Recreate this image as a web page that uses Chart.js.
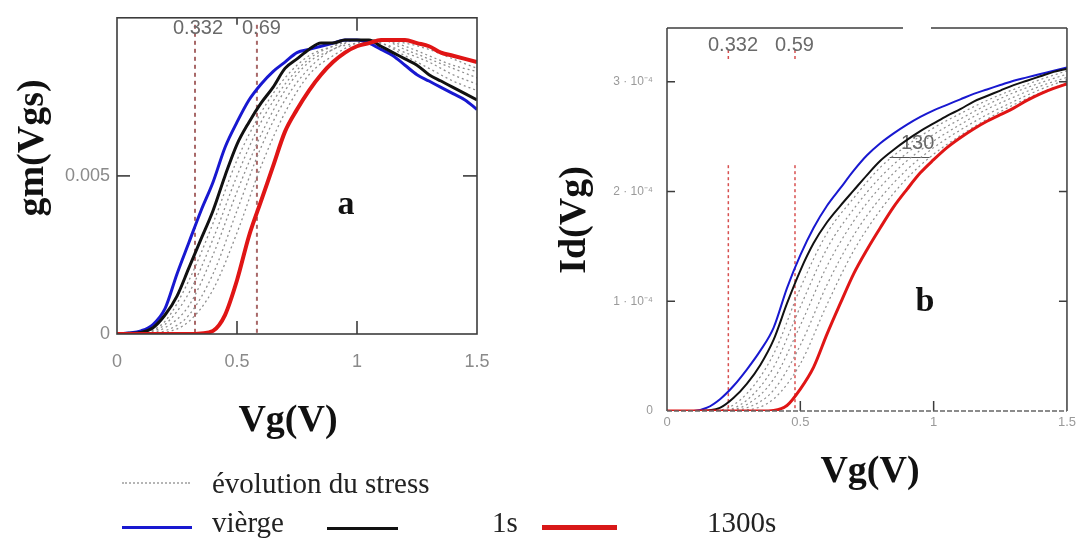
<!DOCTYPE html>
<html lang="fr">
<head>
<meta charset="UTF-8">
<title>gm(Vgs) et Id(Vg)</title>
<style>
  html, body { margin: 0; padding: 0; background: #fff; }
  #wrap { position: relative; width: 1076px; height: 542px; overflow: hidden; }
  #wrap canvas { position: absolute; top: 0; }
  #chartA { left: 0; }
  #chartB { left: 545px; }
  .leg-line { position: absolute; height: 0; }
  .leg-text { position: absolute; font-family: "Liberation Serif", serif; font-size: 29px; line-height: 29px; color: #222; white-space: nowrap; }
</style>
</head>
<body>
<div id="wrap">
  <canvas id="chartA" width="545" height="542"></canvas>
  <canvas id="chartB" width="535" height="542"></canvas>

  <div class="leg-line" style="left:122px; top:482px; width:68px; border-top:2px dotted #b5b5b5;"></div>
  <div class="leg-text" style="left:212px; top:469px;">évolution du stress</div>
  <div class="leg-line" style="left:122px; top:526px; width:70px; border-top:3px solid #1818d0;"></div>
  <div class="leg-text" style="left:212px; top:508px;">vièrge</div>
  <div class="leg-line" style="left:327px; top:527px; width:71px; border-top:3px solid #111;"></div>
  <div class="leg-text" style="left:492px; top:508px;">1s</div>
  <div class="leg-line" style="left:542px; top:525px; width:75px; border-top:5px solid #d81818;"></div>
  <div class="leg-text" style="left:707px; top:508px;">1300s</div>
</div>

<script src="https://cdn.jsdelivr.net/npm/chart.js@4"></script>
<script>
// gate voltage grids (V)
const vgFine = [0, 0.05, 0.1, 0.15, 0.2, 0.25, 0.3, 0.35, 0.4, 0.45, 0.5, 0.55, 0.6, 0.65, 0.7, 0.75,
                0.8, 0.85, 0.9, 0.95, 1.0, 1.05, 1.1, 1.15, 1.2, 1.25, 1.3, 1.35, 1.4, 1.45, 1.5];
const vgCoarse = [0, 0.1, 0.2, 0.3, 0.4, 0.5, 0.6, 0.7, 0.8, 0.9, 1.0, 1.1, 1.2, 1.3, 1.4, 1.5];
const vgTicks = [0, 0.5, 1, 1.5];
const vgTickLabels = ['0', '0.5', '1', '1.5'];

// (a) transconductance gm (S)
const gmVierge = [0, 0.00003, 0.0001, 0.0003, 0.0008, 0.0019, 0.0029, 0.0039, 0.0048, 0.0059, 0.0067, 0.0074, 0.0079, 0.0083, 0.0086, 0.0089,
                  0.0090, 0.0091, 0.0092, 0.0093, 0.0093, 0.0092, 0.0090, 0.0088, 0.0085, 0.0082, 0.0080, 0.0078, 0.0076, 0.0074, 0.0071];
const gm1s = [0, 0.00002, 0.00005, 0.0002, 0.0006, 0.0012, 0.0021, 0.0030, 0.0039, 0.0050, 0.0060, 0.0067, 0.0073, 0.0078, 0.0084, 0.0087,
              0.0090, 0.0092, 0.0092, 0.0093, 0.0093, 0.0093, 0.0091, 0.0089, 0.0087, 0.0085, 0.0082, 0.0080, 0.0078, 0.0076, 0.0074];
const gm1300s = [0, 0, 0, 0, 0, 0, 0, 0.00002, 0.0001, 0.0006, 0.0017, 0.0031, 0.0042, 0.0053, 0.0064, 0.0071,
                 0.0077, 0.0082, 0.0086, 0.0089, 0.0091, 0.0092, 0.0093, 0.0093, 0.0093, 0.0092, 0.0091, 0.0089, 0.0088, 0.0087, 0.0086];
// intermediate stress times (coarse grid)
const gmStress = [
  [0, 0.00003, 0.0004, 0.0017, 0.0035, 0.0055, 0.0070, 0.0081, 0.0088, 0.0091, 0.0093, 0.0092, 0.0088, 0.0084, 0.0080, 0.0077],
  [0, 0.00002, 0.0003, 0.0013, 0.0030, 0.0050, 0.0067, 0.0079, 0.0087, 0.0091, 0.0093, 0.0092, 0.0089, 0.0086, 0.0082, 0.0079],
  [0, 0, 0.0002, 0.0009, 0.0025, 0.0045, 0.0063, 0.0077, 0.0086, 0.0090, 0.0093, 0.0093, 0.0090, 0.0087, 0.0084, 0.0081],
  [0, 0, 0.0001, 0.0006, 0.0019, 0.0039, 0.0059, 0.0074, 0.0084, 0.0090, 0.0092, 0.0093, 0.0091, 0.0088, 0.0085, 0.0083],
  [0, 0, 0.00005, 0.0004, 0.0014, 0.0032, 0.0053, 0.0070, 0.0082, 0.0088, 0.0092, 0.0093, 0.0092, 0.0090, 0.0087, 0.0084]
];
const gmTicks = [0, 0.005];
const gmTickLabels = ['0', '0.005'];
const vthA = [0.325, 0.583];

// (b) drain current Id, in units of 1e-4 A
const ID_UNIT = 1e-4;
const idVierge = [0, 0, 0.001, 0.03, 0.11, 0.23, 0.38, 0.55, 0.76, 1.12, 1.42, 1.67, 1.87, 2.03, 2.19, 2.33,
                  2.44, 2.53, 2.61, 2.68, 2.74, 2.79, 2.84, 2.89, 2.93, 2.97, 3.01, 3.04, 3.07, 3.10, 3.13];
const id1s = [0, 0, 0, 0.005, 0.03, 0.12, 0.25, 0.42, 0.65, 0.98, 1.28, 1.53, 1.72, 1.87, 2.01, 2.15,
              2.28, 2.38, 2.47, 2.55, 2.62, 2.69, 2.75, 2.82, 2.87, 2.92, 2.97, 3.01, 3.05, 3.09, 3.12];
const id1300s = [0, 0, 0, 0, 0, 0, 0, 0, 0.005, 0.05, 0.20, 0.40, 0.70, 0.98, 1.25, 1.47,
                 1.67, 1.86, 2.02, 2.17, 2.29, 2.40, 2.49, 2.57, 2.64, 2.70, 2.76, 2.83, 2.89, 2.94, 2.98];
const idStress = [
  [0, 0, 0.01, 0.16, 0.52, 1.12, 1.62, 1.94, 2.22, 2.42, 2.58, 2.71, 2.83, 2.93, 3.02, 3.10],
  [0, 0, 0, 0.10, 0.40, 0.95, 1.48, 1.84, 2.13, 2.35, 2.52, 2.66, 2.79, 2.90, 2.99, 3.07],
  [0, 0, 0, 0.06, 0.29, 0.78, 1.32, 1.73, 2.04, 2.28, 2.46, 2.61, 2.75, 2.86, 2.96, 3.04],
  [0, 0, 0, 0.03, 0.19, 0.60, 1.15, 1.60, 1.94, 2.20, 2.40, 2.56, 2.70, 2.82, 2.93, 3.02],
  [0, 0, 0, 0.01, 0.11, 0.43, 0.97, 1.46, 1.83, 2.12, 2.34, 2.51, 2.66, 2.79, 2.90, 2.99]
];
const idTicks = [0, 1e-4, 2e-4, 3e-4];
const idTickLabels = ['0', '1 · 10⁻⁴', '2 · 10⁻⁴', '3 · 10⁻⁴'];
const vthB = [0.23, 0.48];

const BLUE = '#1818d0', BLACK = '#111111', RED = '#e01515', GRAY = '#8e8e8e';

function pts(xs, ys, k = 1) {
  return xs.map((x, i) => ({ x: x, y: ys[i] * k }));
}

function curve(xs, ys, color, width, order, dash, k) {
  return {
    data: pts(xs, ys, k),
    borderColor: color,
    borderWidth: width,
    borderDash: dash || [],
    pointRadius: 0,
    cubicInterpolationMode: 'monotone',
    fill: false,
    order: order
  };
}

function label(ctx, s, x, y, font, color, align, rot) {
  ctx.save();
  ctx.font = font;
  ctx.fillStyle = color;
  ctx.textAlign = align || 'center';
  ctx.textBaseline = 'middle';
  ctx.translate(x, y);
  if (rot) ctx.rotate(rot);
  ctx.fillText(s, 0, 0);
  ctx.restore();
}

function seg(ctx, x1, y1, x2, y2) {
  ctx.beginPath();
  ctx.moveTo(x1, y1);
  ctx.lineTo(x2, y2);
  ctx.stroke();
}

function options(o) {
  return {
    responsive: false,
    animation: false,
    events: [],
    layout: { padding: o.padding },
    plugins: { legend: { display: false }, tooltip: { enabled: false } },
    scales: {
      x: {
        type: 'linear', min: 0, max: 1.5,
        grid: { display: false, drawTicks: false },
        border: { display: false },
        afterBuildTicks: s => { s.ticks = vgTicks.map(v => ({ value: v })); },
        afterFit: s => { s.height = o.xHeight; },
        ticks: {
          autoSkip: false, maxRotation: 0, padding: o.xPad, color: o.tickColor,
          font: { family: '"Liberation Sans"', size: o.xFont },
          callback: (v, i) => vgTickLabels[i]
        }
      },
      y: {
        type: 'linear', min: 0, max: o.yMax,
        grid: { display: false, drawTicks: false },
        border: { display: false },
        afterBuildTicks: s => { s.ticks = o.yTicks.map(v => ({ value: v })); },
        afterFit: s => { s.width = o.yWidth; },
        ticks: {
          autoSkip: false, padding: o.yPad, color: o.tickColor,
          font: { family: '"Liberation Sans"', size: o.yFont },
          callback: (v, i) => o.yLabels[i]
        }
      }
    }
  };
}

const TITLE = 'bold 38px "Liberation Serif"';
const LETTER = 'bold 34px "Liberation Serif"';
const MARK = '20px "Liberation Sans"';

// panel a: frame, inward ticks, threshold markers, titles
const decorA = {
  id: 'decorA',
  beforeDatasetsDraw(chart) {
    const { ctx, chartArea: a, scales: { x } } = chart;
    ctx.save();
    ctx.strokeStyle = '#a86868';
    ctx.lineWidth = 2;
    ctx.setLineDash([4, 4]);
    vthA.forEach(v => seg(ctx, x.getPixelForValue(v), a.top + 7, x.getPixelForValue(v), a.bottom));
    ctx.restore();
    label(ctx, '0.332', 173, 28, MARK, '#6a6a6a', 'left');
    label(ctx, '0.69', 242, 28, MARK, '#6a6a6a', 'left');
  },
  afterDatasetsDraw(chart) {
    const { ctx, chartArea: a, scales: { x, y } } = chart;
    ctx.save();
    ctx.strokeStyle = '#3c3c3c';
    ctx.lineWidth = 1.6;
    ctx.strokeRect(a.left, a.top, a.right - a.left, a.bottom - a.top);
    [0.5, 1].forEach(v => {
      const px = x.getPixelForValue(v);
      seg(ctx, px, a.bottom, px, a.bottom - 13);
      seg(ctx, px, a.top, px, a.top + (v === 1 ? 13 : 7));
    });
    gmTicks.slice(1).forEach(v => {
      const py = y.getPixelForValue(v);
      seg(ctx, a.left, py, a.left + 13, py);
      seg(ctx, a.right - 14, py, a.right, py);
    });
    ctx.restore();
    label(ctx, 'gm(Vgs)', 33, 148, TITLE, '#111', 'center', -Math.PI / 2);
    label(ctx, 'Vg(V)', 288, 421, TITLE, '#111');
    label(ctx, 'a', 346, 205, LETTER, '#111');
  }
};

// panel b: open frame, dashed baseline, markers, titles
const decorB = {
  id: 'decorB',
  beforeDatasetsDraw(chart) {
    const { ctx, chartArea: a, scales: { x, y } } = chart;
    ctx.save();
    ctx.strokeStyle = '#d85050';
    ctx.lineWidth = 1.5;
    ctx.setLineDash([3, 3]);
    vthB.forEach(v => {
      const px = x.getPixelForValue(v);
      seg(ctx, px, y.getPixelForValue(2.24e-4), px, a.bottom);
      seg(ctx, px, 50, px, 62);
    });
    ctx.restore();
    label(ctx, '0.332', 163, 45, MARK, '#6a6a6a', 'left');
    label(ctx, '0.59', 230, 45, MARK, '#6a6a6a', 'left');
    ctx.save();
    ctx.strokeStyle = '#555';
    ctx.lineWidth = 1.2;
    const yy = y.getPixelForValue(2.31e-4);
    seg(ctx, x.getPixelForValue(0.835), yy, x.getPixelForValue(0.985), yy);
    ctx.restore();
    label(ctx, '130', x.getPixelForValue(0.94), y.getPixelForValue(2.44e-4), MARK, '#666');
  },
  afterDatasetsDraw(chart) {
    const { ctx, chartArea: a, scales: { x, y } } = chart;
    ctx.save();
    ctx.strokeStyle = '#3c3c3c';
    ctx.lineWidth = 1.5;
    seg(ctx, a.left, a.top, a.left, a.bottom);
    seg(ctx, a.right, a.top, a.right, a.bottom);
    seg(ctx, a.left, a.top, x.getPixelForValue(0.885), a.top);
    seg(ctx, x.getPixelForValue(0.99), a.top, a.right, a.top);
    idTicks.slice(1).forEach(v => {
      const py = y.getPixelForValue(v);
      seg(ctx, a.left, py, a.left + 8, py);
      seg(ctx, a.right - 8, py, a.right, py);
    });
    [0.5, 1].forEach(v => {
      const px = x.getPixelForValue(v);
      seg(ctx, px, a.bottom, px, a.bottom - 10);
    });
    ctx.strokeStyle = '#666';
    ctx.setLineDash([5, 2]);
    seg(ctx, a.left, a.bottom, a.right, a.bottom);
    ctx.restore();
    label(ctx, 'Id(Vg)', 30, 220, TITLE, '#111', 'center', -Math.PI / 2);
    label(ctx, 'Vg(V)', 325, 472, TITLE, '#111');
    label(ctx, 'b', 380, 302, LETTER, '#111');
  }
};

new Chart(document.getElementById('chartA'), {
  type: 'line',
  data: {
    datasets: [
      curve(vgFine, gm1300s, RED, 4, 0),
      curve(vgFine, gm1s, BLACK, 3, 1),
      curve(vgFine, gmVierge, BLUE, 3, 2),
      ...gmStress.map((s, i) => curve(vgCoarse, s, GRAY, 1.3, 3 + i, [2, 3]))
    ]
  },
  options: options({
    padding: { left: 0, top: 13, right: 68, bottom: 0 },
    xHeight: 542 - 334, yWidth: 117, yMax: 0.01,
    yTicks: gmTicks, yLabels: gmTickLabels,
    xPad: 17, yPad: 7, xFont: 18, yFont: 18, tickColor: '#8a8a8a'
  }),
  plugins: [decorA]
});

new Chart(document.getElementById('chartB'), {
  type: 'line',
  data: {
    datasets: [
      curve(vgFine, id1300s, RED, 3, 0, null, ID_UNIT),
      curve(vgFine, id1s, BLACK, 2, 1, null, ID_UNIT),
      curve(vgFine, idVierge, BLUE, 2, 2, null, ID_UNIT),
      ...idStress.map((s, i) => curve(vgCoarse, s, GRAY, 1.2, 3 + i, [2, 3], ID_UNIT))
    ]
  },
  options: options({
    padding: { left: 0, top: 28, right: 0, bottom: 0 },
    xHeight: 542 - 411, yWidth: 122, yMax: 3.49e-4,
    yTicks: idTicks, yLabels: idTickLabels,
    xPad: 4, yPad: 14, xFont: 13, yFont: 12, tickColor: '#9a9a9a'
  }),
  plugins: [decorB]
});
</script>
</body>
</html>
